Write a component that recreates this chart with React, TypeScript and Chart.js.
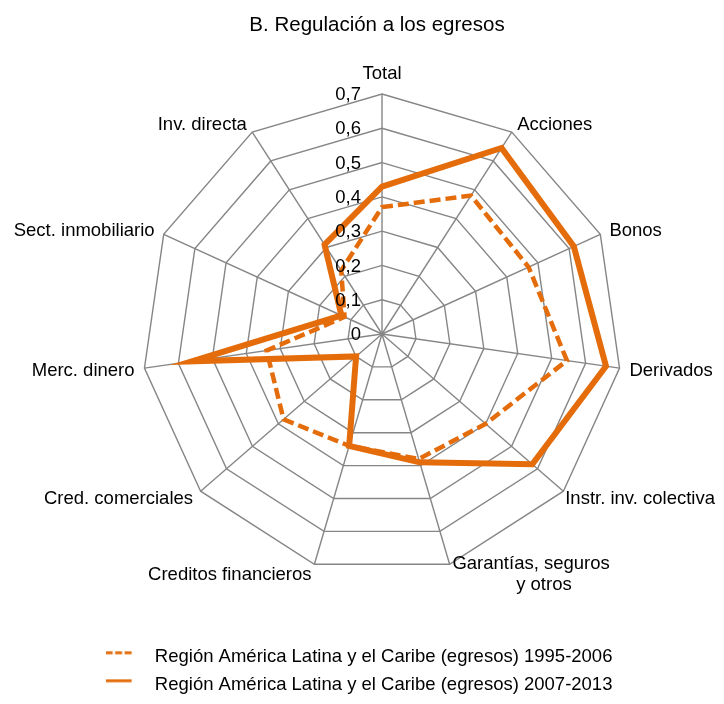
import React, { useEffect, useRef } from 'react';
import { Chart, registerables } from 'chart.js';

Chart.register(...registerables);

// ---------- data ----------
const categories: (string | string[])[] = [
  'Total',
  'Acciones',
  'Bonos',
  'Derivados',
  'Instr. inv. colectiva',
  ['Garantías, seguros', '     y otros'],
  'Creditos financieros',
  'Cred. comerciales',
  'Merc. dinero',
  'Sect. inmobiliario',
  'Inv. directa',
];

const seriesLabels = [
  'Región América Latina y el Caribe (egresos) 1995-2006',
  'Región América Latina y el Caribe (egresos) 2007-2013',
];

const values1995_2006 = [0.37, 0.48, 0.47, 0.545, 0.40, 0.38, 0.34, 0.38, 0.34, 0.12, 0.22];
const values2007_2013 = [0.43, 0.645, 0.615, 0.66, 0.58, 0.39, 0.34, 0.10, 0.56, 0.13, 0.31];

const tickLabels = ['0', '0,1', '0,2', '0,3', '0,4', '0,5', '0,6', '0,7'];

const titleText = 'B. Regulación a los egresos';

// ---------- style ----------
const ORANGE = '#E46C0A';
const GRID = '#868686';
const TEXT = '#000000';
const FONT = '"Liberation Sans", Arial, Helvetica, sans-serif';
const FONT_SIZE = 18.5;
const W = 708;
const H = 688;

function makeLegendIcon(dash: number[]) {
  const c = document.createElement('canvas');
  c.width = 40;
  c.height = 12;
  const g = c.getContext('2d')!;
  g.strokeStyle = ORANGE;
  g.lineWidth = 3;
  g.setLineDash(dash);
  g.beginPath();
  g.moveTo(0, 2);
  g.lineTo(26, 2);
  g.stroke();
  return c;
}

const labelPlugin = {
  id: 'excelStyleLabels',
  afterDatasetsDraw(chart: any) {
    const s = chart.scales.r;
    const ctx = chart.ctx as CanvasRenderingContext2D;
    ctx.save();
    ctx.fillStyle = TEXT;
    ctx.font = `${FONT_SIZE}px ${FONT}`;
    ctx.textBaseline = 'middle';

    // tick labels, to the left of the vertical axis
    ctx.textAlign = 'right';
    s.ticks.forEach((t: any) => {
      const y = s.yCenter - s.getDistanceFromCenterForValue(t.value);
      ctx.fillText(String(t.label), s.xCenter - 21, y + 1);
    });

    // point labels
    const labels = chart.data.labels as (string | string[])[];
    const lh = 21;
    labels.forEach((lab, i) => {
      const lines = Array.isArray(lab) ? lab : [lab];
      const p = s.getPointPosition(i, s.drawingArea + 10);
      const dx = p.x - s.xCenter;
      const dy = p.y - s.yCenter;
      const widths = lines.map((l) => ctx.measureText(l).width);
      const bw = Math.max(...widths);
      let left: number;
      let cy = p.y;
      if (Math.abs(dx) < 1) {
        left = p.x - bw / 2;
        cy = dy < 0 ? p.y - 11 : p.y + 11;
      } else if (dx > 0) {
        left = p.x;
      } else {
        left = p.x - bw;
      }
      left = Math.max(0, Math.min(left, chart.width - bw - 1));
      const top = cy - ((lines.length - 1) * lh) / 2 + 1;
      ctx.textAlign = 'center';
      lines.forEach((l, j) => ctx.fillText(l, left + bw / 2, top + j * lh));
    });
    ctx.restore();
  },
};

export default function App() {
  const ref = useRef<HTMLCanvasElement>(null);

  useEffect(() => {
    Chart.defaults.font.family = FONT;
    const icons = [makeLegendIcon([7, 2.5]), makeLegendIcon([])];

    const chart = new Chart(ref.current!, {
      type: 'radar',
      data: {
        labels: categories as any,
        datasets: [
          {
            label: seriesLabels[0],
            data: values1995_2006,
            borderColor: ORANGE,
            backgroundColor: ORANGE,
            borderWidth: 4.5,
            borderDash: [11, 5],
            borderCapStyle: 'butt',
            borderJoinStyle: 'miter',
            pointRadius: 0,
            fill: false,
            order: 1,
          },
          {
            label: seriesLabels[1],
            data: values2007_2013,
            borderColor: ORANGE,
            backgroundColor: ORANGE,
            borderWidth: 6,
            borderJoinStyle: 'miter',
            pointRadius: 0,
            fill: false,
            order: 0,
          },
        ],
      },
      options: {
        responsive: false,
        animation: false,
        events: [],
        layout: { padding: { left: 30, right: 0, top: 0, bottom: -8 } },
        scales: {
          r: {
            min: 0,
            max: 0.7,
            ticks: {
              stepSize: 0.1,
              display: false,
              callback: (_v: any, i: number) => tickLabels[i],
            },
            grid: { color: GRID, lineWidth: 1.4 },
            angleLines: { color: GRID, lineWidth: 1.4 },
            pointLabels: { display: false },
            afterFit: (s: any) => {
              s.xCenter = 374;
              s.yCenter = 326;
              s.drawingArea = 240;
            },
          } as any,
        },
        plugins: {
          title: {
            display: true,
            text: titleText,
            color: TEXT,
            font: { size: 20.5, weight: 'normal', family: FONT },
            padding: { top: 5, bottom: 10 },
          },
          legend: {
            display: true,
            position: 'bottom',
            labels: {
              color: TEXT,
              font: { size: FONT_SIZE, family: FONT },
              usePointStyle: true,
              pointStyleWidth: 40,
              padding: 9.5,
              sort: (a: any, b: any) => a.datasetIndex - b.datasetIndex,
              generateLabels: (ch: any) => {
                const items = (Chart.defaults.plugins.legend.labels as any).generateLabels(ch);
                return items.map((it: any) => ({
                  ...it,
                  text: it.text + '       ',
                  pointStyle: icons[it.datasetIndex],
                }));
              },
            },
          },
          tooltip: { enabled: false },
        },
      } as any,
      plugins: [labelPlugin],
    });
    return () => chart.destroy();
  }, []);

  return (
    <div style={{ width: W, height: H }}>
      <canvas ref={ref} width={W} height={H} style={{ display: 'block', width: W, height: H }} />
    </div>
  );
}
